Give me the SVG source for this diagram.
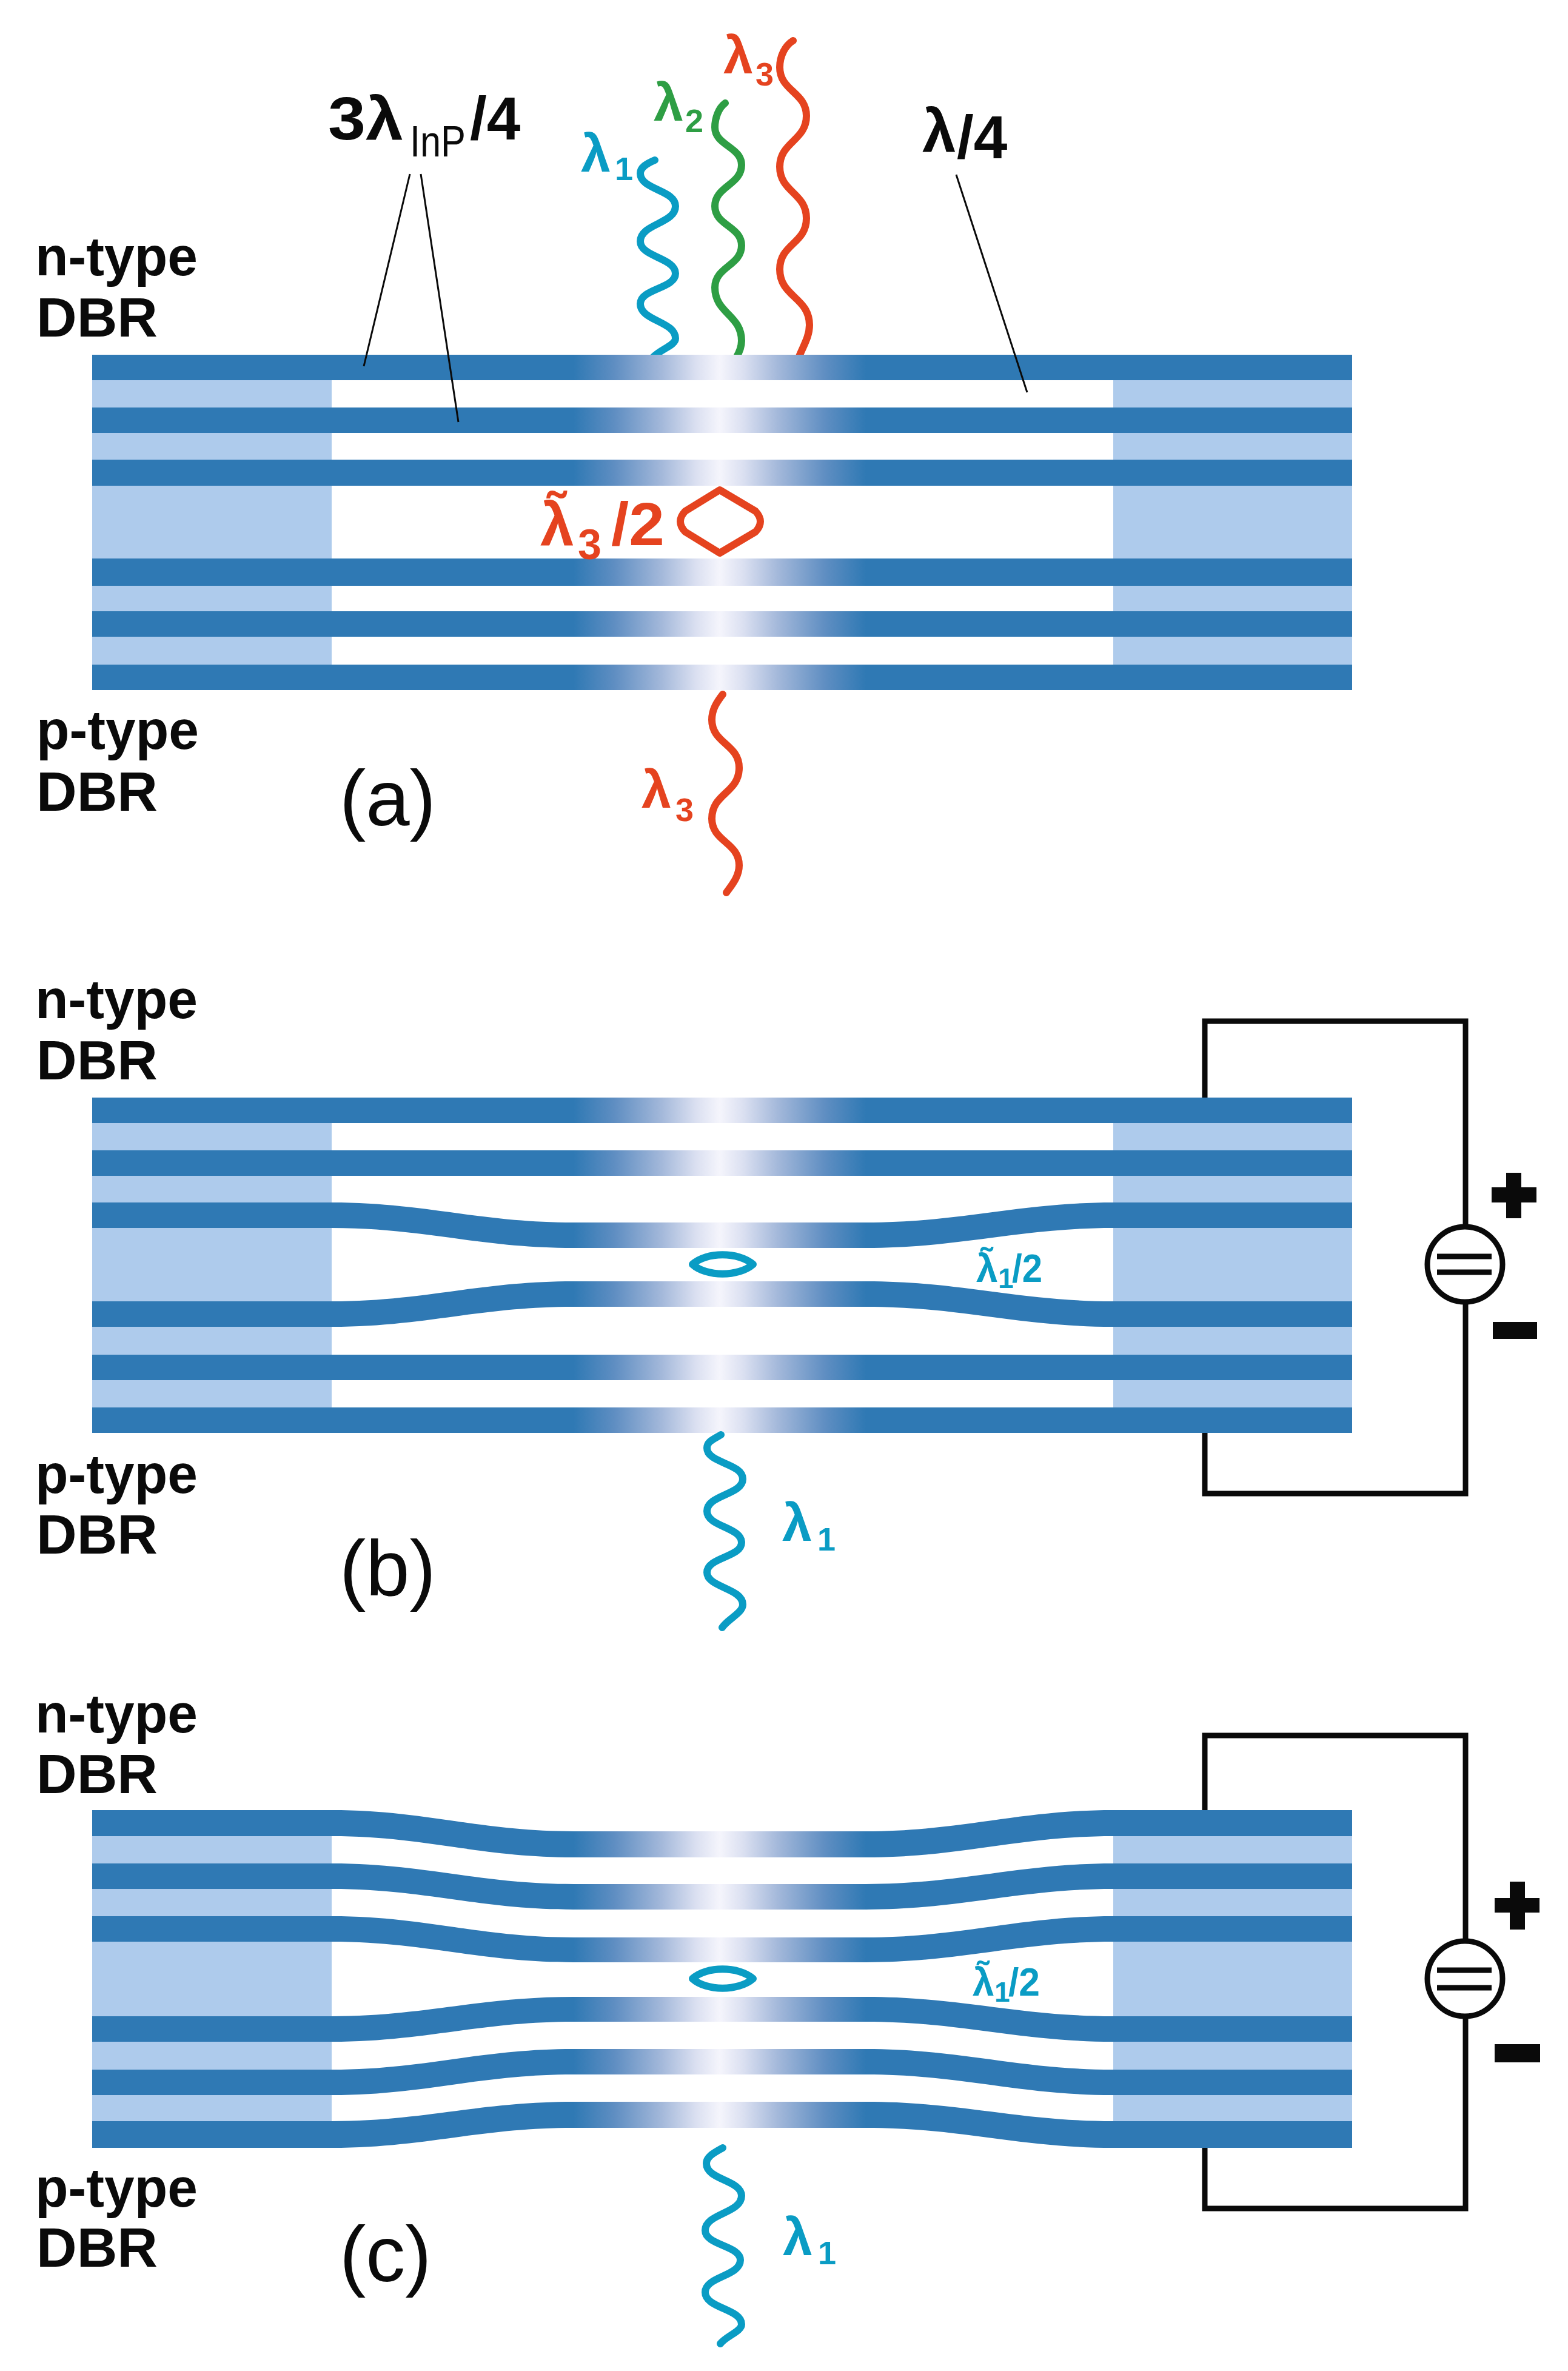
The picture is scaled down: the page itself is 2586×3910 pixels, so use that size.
<svg xmlns="http://www.w3.org/2000/svg" width="2586" height="3910" viewBox="0 0 2586 3910">
<style>
text{font-family:"Liberation Sans",Arial,sans-serif;fill:#0a0a0a}
.b{font-weight:700}
.dbr{font-weight:700;font-size:90px}
.pl{font-size:130px}
.big{font-weight:700;font-size:100px}
.bar{fill:url(#barGrad)}
.light{fill:#aecbec}
.w{fill:none;stroke-linecap:round;stroke-linejoin:round;stroke-width:12}
.c1{stroke:#0a9cc4}.c2{stroke:#2e9e44}.c3{stroke:#e5431f}
.f1{fill:#0a9cc4}.f2{fill:#2e9e44}.f3{fill:#e5431f}
.wire{fill:none;stroke:#0a0a0a;stroke-width:9;stroke-linejoin:miter}
.lead{stroke:#0a0a0a;stroke-width:3;fill:none}
</style>
<defs>
<linearGradient id="barGrad" gradientUnits="userSpaceOnUse" x1="946" y1="0" x2="1428" y2="0">
<stop offset="0" stop-color="#2f79b4"/>
<stop offset="0.14" stop-color="#5f8ec2"/>
<stop offset="0.3" stop-color="#a3b8da"/>
<stop offset="0.42" stop-color="#dbe0f1"/>
<stop offset="0.5" stop-color="#f5f5fc"/>
<stop offset="0.58" stop-color="#dbe0f1"/>
<stop offset="0.7" stop-color="#a3b8da"/>
<stop offset="0.86" stop-color="#5f8ec2"/>
<stop offset="1" stop-color="#2f79b4"/>
</linearGradient>
</defs>
<rect width="2586" height="3910" fill="#fff"/>

<g id="connectors">
<path class="wire" d="M1987 1812V1684H2417V2022M2417 2149V2463H1987V2360"/>
<path class="wire" d="M1987 2987V2862H2417V3200M2417 3327V3642H1987V3540"/>
</g>

<g id="waves-top">
<path class="w c1" d="M1080 264C1066 270 1056 276 1056 286C1056 313 1114 313 1114 340C1114 369 1056 369 1056 398C1056 424 1114 425 1114 451C1114 476 1056 476 1056 501C1056 529 1114 530 1114 558C1114 570 1090 575 1076 590"/>
<path class="w c2" d="M1196 170C1185 178 1179 195 1179 210C1179 240 1223 242 1223 272C1223 305 1179 307 1179 340C1179 372 1223 373 1223 405C1223 438 1179 440 1179 474C1179 517 1223 519 1223 562C1223 572 1220 580 1214 590"/>
<path class="w c3" d="M1308 67C1295 75 1286 92 1286 111C1286 150 1330 152 1330 191C1330 232 1286 234 1286 275C1286 317 1330 318 1330 360C1330 402 1286 402 1286 444C1286 490 1335 490 1335 536C1335 555 1325 570 1317 590"/>
</g>

<g id="panel-a">
<rect class="light" x="152" y="600" width="395" height="520"/>
<rect class="light" x="1836" y="600" width="394" height="520"/>
<rect class="bar" x="152" y="585" width="2078" height="42"/>
<rect class="bar" x="152" y="672" width="2078" height="42"/>
<rect class="bar" x="152" y="758" width="2078" height="43"/>
<rect class="bar" x="152" y="921" width="2078" height="45"/>
<rect class="bar" x="152" y="1008" width="2078" height="42"/>
<rect class="bar" x="152" y="1096" width="2078" height="42"/>
<path class="w c3" style="stroke-width:12" d="M1187 808L1246 843Q1262 860 1246 877L1187 912L1130 877Q1114 860 1130 843Z"/>
</g>

<g id="panel-b">
<rect class="light" x="152" y="1830" width="395" height="510"/>
<rect class="light" x="1836" y="1830" width="394" height="510"/>
<rect class="bar" x="152" y="1810" width="2078" height="42"/>
<rect class="bar" x="152" y="1897" width="2078" height="42"/>
<path class="bar" d="M152 1983H547C700 1983 790 2016 946 2016H1428C1585 2016 1680 1983 1836 1983H2230V2025H1836C1680 2025 1585 2058 1428 2058H946C790 2058 700 2025 547 2025H152Z"/>
<path class="bar" d="M152 2146H547C700 2146 790 2113 946 2113H1428C1585 2113 1680 2146 1836 2146H2230V2188H1836C1680 2188 1585 2155 1428 2155H946C790 2155 700 2188 547 2188H152Z"/>
<rect class="bar" x="152" y="2234" width="2078" height="42"/>
<rect class="bar" x="152" y="2321" width="2078" height="42"/>
<path class="w c1" d="M1142 2085C1165 2064 1218 2064 1242 2085C1218 2106 1165 2106 1142 2085Z"/>
<path class="w c1" d="M1189 2366C1176 2374 1166 2377 1166 2388C1166 2413 1225 2413 1225 2439C1225 2465 1166 2465 1166 2492C1166 2518 1223 2518 1223 2544C1223 2568 1166 2568 1166 2593C1166 2618 1225 2619 1225 2646C1225 2660 1200 2670 1191 2684"/>
</g>

<g id="panel-c">
<rect class="light" x="152" y="3005" width="395" height="510"/>
<rect class="light" x="1836" y="3005" width="394" height="510"/>
<path class="bar" d="M152 2985H547C700 2985 790 3020 946 3020H1428C1585 3020 1680 2985 1836 2985H2230V3028H1836C1680 3028 1585 3063 1428 3063H946C790 3063 700 3028 547 3028H152Z"/>
<path class="bar" d="M152 3073H547C700 3073 790 3107 946 3107H1428C1585 3107 1680 3073 1836 3073H2230V3115H1836C1680 3115 1585 3149 1428 3149H946C790 3149 700 3115 547 3115H152Z"/>
<path class="bar" d="M152 3160H547C700 3160 790 3195 946 3195H1428C1585 3195 1680 3160 1836 3160H2230V3202H1836C1680 3202 1585 3236 1428 3236H946C790 3236 700 3202 547 3202H152Z"/>
<path class="bar" d="M152 3325H547C700 3325 790 3293 946 3293H1428C1585 3293 1680 3325 1836 3325H2230V3367H1836C1680 3367 1585 3334 1428 3334H946C790 3334 700 3367 547 3367H152Z"/>
<path class="bar" d="M152 3413H547C700 3413 790 3379 946 3379H1428C1585 3379 1680 3413 1836 3413H2230V3455H1836C1680 3455 1585 3421 1428 3421H946C790 3421 700 3455 547 3455H152Z"/>
<path class="bar" d="M152 3498H547C700 3498 790 3466 946 3466H1428C1585 3466 1680 3498 1836 3498H2230V3542H1836C1680 3542 1585 3509 1428 3509H946C790 3509 700 3542 547 3542H152Z"/>
<path class="w c1" d="M1142 3263C1165 3242 1218 3242 1242 3263C1218 3284 1165 3284 1142 3263Z"/>
<path class="w c1" d="M1192 3542C1178 3550 1165 3556 1165 3568C1165 3595 1223 3595 1223 3621C1223 3650 1163 3650 1163 3678C1163 3703 1221 3703 1221 3727C1221 3754 1163 3754 1163 3780C1163 3807 1223 3807 1223 3833C1223 3845 1198 3852 1188 3865"/>
</g>

<g id="wave-a-bottom">
<path class="w c3" d="M1192 1145C1182 1158 1174 1170 1174 1187C1174 1226 1219 1227 1219 1266C1219 1308 1174 1308 1174 1350C1174 1388 1219 1389 1219 1427C1219 1445 1208 1458 1198 1472"/>
</g>

<g id="leaders">
<path class="lead" d="M676 287L600 604M694 287L756 696"/>
<path class="lead" d="M1577 288L1694 647"/>
</g>

<g id="source-b">
<circle cx="2416" cy="2085" r="62" fill="#fff" stroke="#0a0a0a" stroke-width="9"/>
<path d="M2370 2072H2460M2370 2098H2460" stroke="#0a0a0a" stroke-width="9" fill="none"/>
<path d="M2484 1934H2509V1958H2534V1983H2509V2009H2484V1983H2460V1958H2484Z" fill="#0a0a0a"/>
<rect x="2462" y="2180" width="73" height="28" fill="#0a0a0a"/>
</g>
<g id="source-c">
<circle cx="2416" cy="3263" r="62" fill="#fff" stroke="#0a0a0a" stroke-width="9"/>
<path d="M2370 3249H2460M2370 3278H2460" stroke="#0a0a0a" stroke-width="9" fill="none"/>
<path d="M2490 3103H2515V3130H2539V3154H2515V3182H2490V3154H2465V3130H2490Z" fill="#0a0a0a"/>
<rect x="2465" y="3371" width="75" height="30" fill="#0a0a0a"/>
</g>

<g id="labels">
<text class="dbr" x="58" y="454" textLength="268" lengthAdjust="spacingAndGlyphs">n-type</text>
<text class="dbr" x="60" y="555" textLength="200" lengthAdjust="spacingAndGlyphs">DBR</text>
<text class="dbr" x="60" y="1235" textLength="268" lengthAdjust="spacingAndGlyphs">p-type</text>
<text class="dbr" x="60" y="1337" textLength="200" lengthAdjust="spacingAndGlyphs">DBR</text>
<text class="dbr" x="58" y="1679" textLength="268" lengthAdjust="spacingAndGlyphs">n-type</text>
<text class="dbr" x="60" y="1780" textLength="200" lengthAdjust="spacingAndGlyphs">DBR</text>
<text class="dbr" x="58" y="2462" textLength="268" lengthAdjust="spacingAndGlyphs">p-type</text>
<text class="dbr" x="60" y="2562" textLength="200" lengthAdjust="spacingAndGlyphs">DBR</text>
<text class="dbr" x="58" y="2857" textLength="268" lengthAdjust="spacingAndGlyphs">n-type</text>
<text class="dbr" x="60" y="2957" textLength="200" lengthAdjust="spacingAndGlyphs">DBR</text>
<text class="dbr" x="58" y="3639" textLength="268" lengthAdjust="spacingAndGlyphs">p-type</text>
<text class="dbr" x="60" y="3738" textLength="200" lengthAdjust="spacingAndGlyphs">DBR</text>

<text class="pl" x="560" y="1361">(a)</text>
<text class="pl" x="560" y="2631">(b)</text>
<text class="pl" x="560" y="3762">(c)</text>

<text class="big" x="541" y="230" textLength="124" lengthAdjust="spacingAndGlyphs">3λ</text>
<text x="676" y="258" font-size="72" textLength="92" lengthAdjust="spacingAndGlyphs">InP</text>
<text class="big" x="775" y="230">/4</text>
<text class="big" x="1521" y="250">λ</text>
<text class="big" x="1578" y="261">/4</text>

<text class="b f1" x="958" y="283" font-size="88">λ</text><text class="b f1" x="1014" y="297" font-size="54">1</text>
<text class="b f2" x="1078" y="199" font-size="88">λ</text><text class="b f2" x="1130" y="218" font-size="54">2</text>
<text class="b f3" x="1193" y="121" font-size="88">λ</text><text class="b f3" x="1246" y="141" font-size="54">3</text>
<text class="b f3" x="1058" y="1332" font-size="88">λ</text><text class="b f3" x="1114" y="1354" font-size="54">3</text>
<text class="b f1" x="1290" y="2541" font-size="88">λ</text><text class="b f1" x="1348" y="2557" font-size="54">1</text>
<text class="b f1" x="1291" y="3719" font-size="88">λ</text><text class="b f1" x="1349" y="3734" font-size="54">1</text>

<text class="b f3" x="891" y="899" font-size="100">λ̃</text><text class="b f3" x="953" y="922" font-size="70">3</text><text class="b f3" x="1008" y="899" font-size="100" textLength="88" lengthAdjust="spacingAndGlyphs">/2</text>
<text class="b f1" x="1610" y="2114" font-size="64">λ̃</text><text class="b f1" x="1646" y="2124" font-size="46">1</text><text class="b f1" x="1669" y="2114" font-size="64" textLength="50" lengthAdjust="spacingAndGlyphs">/2</text>
<text class="b f1" x="1604" y="3291" font-size="64">λ̃</text><text class="b f1" x="1640" y="3301" font-size="46">1</text><text class="b f1" x="1663" y="3291" font-size="64" textLength="52" lengthAdjust="spacingAndGlyphs">/2</text>
</g>
</svg>
